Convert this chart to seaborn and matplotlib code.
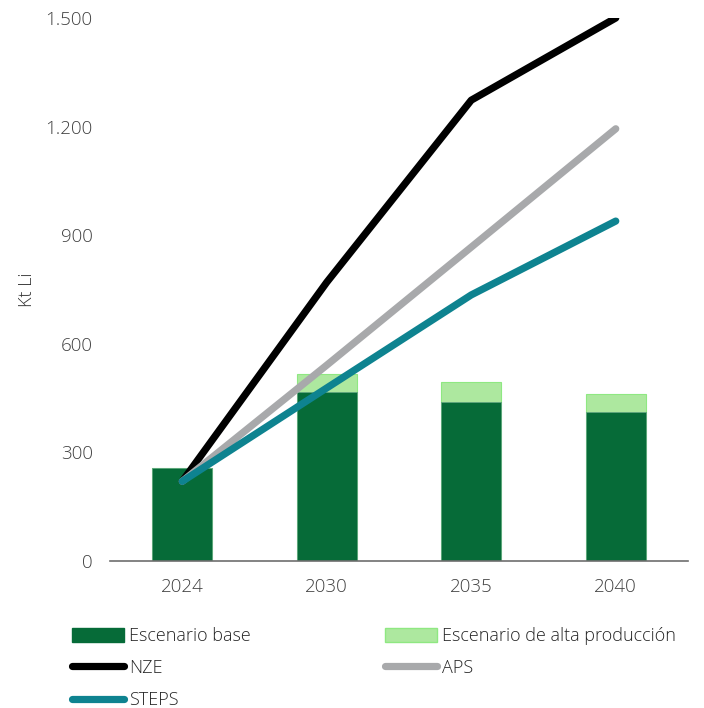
import numpy as np
import pandas as pd
import matplotlib
matplotlib.use("Agg")
import matplotlib.pyplot as plt
import seaborn as sns
from matplotlib.patches import Patch
from matplotlib.lines import Line2D

years = ["2024", "2030", "2035", "2040"]
base = [256, 466, 440, 412]
alta_total = [256, 516, 495, 461]
nze = [220, 770, 1273, 1500]
aps = [220, 541, 867, 1194]
steps = [220, 478, 735, 939]

sns.set_theme(style="white")
plt.rcParams["font.family"] = ["Open Sans", "DejaVu Sans"]

fig = plt.figure(figsize=(7.04, 7.08), dpi=100)
ax = fig.add_axes([110/704, 1 - 561/708, (688-110)/704, (561-18)/708])

c_base = "#066B38"
c_alta = "#ADE89F"
df = pd.DataFrame({"year": years, "base": base, "alta": alta_total})
sns.barplot(data=df, x="year", y="alta", color=c_alta, width=0.415,
            edgecolor="#8FE882", linewidth=0.8, saturation=1, ax=ax)
sns.barplot(data=df, x="year", y="base", color=c_base, width=0.415,
            edgecolor="#5FA67F", linewidth=0.6, saturation=1, ax=ax)

xpos = np.arange(len(years))
lw = 5.2
sns.lineplot(x=xpos, y=nze, color="#000000", linewidth=lw, ax=ax,
             solid_capstyle="round", solid_joinstyle="round")
sns.lineplot(x=xpos, y=aps, color="#A8A9AB", linewidth=lw, ax=ax,
             solid_capstyle="round", solid_joinstyle="round")
sns.lineplot(x=xpos, y=steps, color="#0E8390", linewidth=lw, ax=ax,
             solid_capstyle="round", solid_joinstyle="round")

ax.set_xlim(-0.5, 3.5)
ax.set_ylim(0, 1500)
ax.set_yticks([0, 300, 600, 900, 1200, 1500])
ax.set_yticklabels(["0", "300", "600", "900", "1.200", "1.500"])
ax.set_xticks(xpos)
ax.set_xticklabels(years)
ax.set_xlabel("")
ax.set_ylabel("Kt Li", fontsize=13, color="#333333", fontweight="light")
ax.yaxis.set_label_coords((36 - 110) / 578, (561 - 290) / 543)
ax.tick_params(axis="both", labelsize=13.5, colors="#404040", length=0)
for t in ax.get_xticklabels() + ax.get_yticklabels():
    t.set_fontweight("light")
ax.tick_params(axis="y", pad=12.5)
ax.tick_params(axis="x", pad=12)
for s in ["top", "right", "left"]:
    ax.spines[s].set_visible(False)
ax.spines["bottom"].set_color("#6E6E6E")
ax.spines["bottom"].set_linewidth(1.2)
ax.spines["bottom"].set_clip_on(False)

handles = [
    Patch(facecolor=c_base, edgecolor=c_base),
    Line2D([0], [0], color="#000000", linewidth=5.2, solid_capstyle="round"),
    Line2D([0], [0], color="#0E8390", linewidth=5.2, solid_capstyle="round"),
    Patch(facecolor=c_alta, edgecolor="#8FE882"),
    Line2D([0], [0], color="#A8A9AB", linewidth=5.2, solid_capstyle="round"),
]
labels = ["Escenario base", "NZE", "STEPS", "Escenario de alta producción", "APS"]
leg = fig.legend(handles, labels, ncol=2, loc="upper left",
                 bbox_to_anchor=(72/704, 1 - 627/708), frameon=False,
                 fontsize=13, handlelength=2.9, handleheight=0.8,
                 handletextpad=0.28, columnspacing=7.4, labelspacing=0.78,
                 borderaxespad=0, borderpad=0)
for t in leg.get_texts():
    t.set_color("#262626")
    t.set_fontweight("light")

fig.savefig("out.png", dpi=100)
